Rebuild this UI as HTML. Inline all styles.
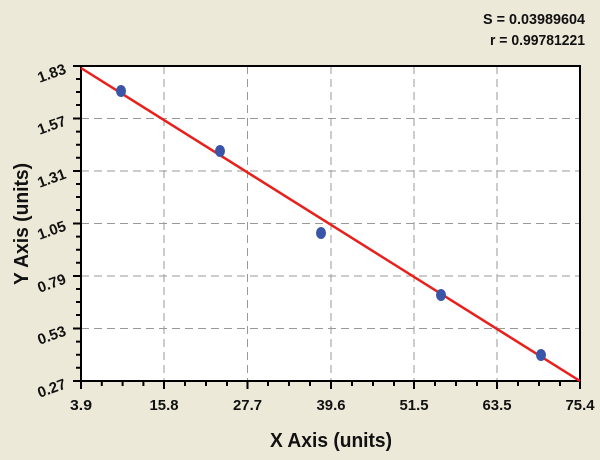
<!DOCTYPE html>
<html><head><meta charset="utf-8"><style>
html,body{margin:0;padding:0;background:#ece9d8;}
svg{display:block;}
text{font-family:"Liberation Sans",sans-serif;font-weight:bold;fill:#111;}
</style></head><body>
<svg width="600" height="460" viewBox="0 0 600 460" xmlns="http://www.w3.org/2000/svg">
<rect width="600" height="460" fill="#ece9d8"/>
<rect x="81" y="66" width="499" height="315" fill="#fff"/>
<g stroke="#999" stroke-width="1" stroke-dasharray="8,5">
<line x1="164" y1="66" x2="164" y2="381"/><line x1="247.5" y1="66" x2="247.5" y2="381"/>
<line x1="331" y1="66" x2="331" y2="381"/><line x1="414" y1="66" x2="414" y2="381"/>
<line x1="497" y1="66" x2="497" y2="381"/>
<line x1="81" y1="118.5" x2="580" y2="118.5"/><line x1="81" y1="171" x2="580" y2="171"/>
<line x1="81" y1="223.5" x2="580" y2="223.5"/><line x1="81" y1="276" x2="580" y2="276"/>
<line x1="81" y1="328.5" x2="580" y2="328.5"/>
</g>
<rect x="81" y="66" width="499" height="315" fill="none" stroke="#000" stroke-width="2"/>
<g stroke="#000" stroke-width="2">
<path d="M81,381v8M101.8,381v5M122.6,381v5M143.4,381v5M164,381v8M185,381v5M206,381v5M227,381v5M247.5,381v8M268,381v5M289,381v5M310,381v5M331,381v8M352,381v5M373,381v5M394,381v5M414,381v8M435,381v5M456,381v5M477,381v5M497,381v8M518,381v5M539,381v5M560,381v5M580,381v8"/>
<path d="M81,66h-8M81,79h-5M81,92h-5M81,105h-5M81,118.5h-8M81,131.6h-5M81,144.7h-5M81,157.8h-5M81,171h-8M81,184h-5M81,197h-5M81,210h-5M81,223.5h-8M81,236.6h-5M81,249.7h-5M81,262.8h-5M81,276h-8M81,289h-5M81,302h-5M81,315h-5M81,328.5h-8M81,341.6h-5M81,354.7h-5M81,367.8h-5M81,381h-8"/>
</g>
<line x1="81" y1="68" x2="580" y2="381" stroke="#e8201c" stroke-width="2.5"/>
<g fill="#3a55a8">
<ellipse cx="121" cy="91" rx="5" ry="6"/><ellipse cx="220" cy="151" rx="5" ry="6"/>
<ellipse cx="321" cy="233" rx="5" ry="6"/><ellipse cx="441" cy="295" rx="5" ry="6"/>
<ellipse cx="541" cy="355" rx="5" ry="6"/>
</g>
<g font-size="15" text-anchor="middle" lengthAdjust="spacingAndGlyphs">
<text x="81" y="410" textLength="22" lengthAdjust="spacingAndGlyphs">3.9</text>
<text x="164" y="410" textLength="29" lengthAdjust="spacingAndGlyphs">15.8</text>
<text x="247.5" y="410" textLength="29" lengthAdjust="spacingAndGlyphs">27.7</text>
<text x="331" y="410" textLength="29" lengthAdjust="spacingAndGlyphs">39.6</text>
<text x="414" y="410" textLength="29" lengthAdjust="spacingAndGlyphs">51.5</text>
<text x="497" y="410" textLength="29" lengthAdjust="spacingAndGlyphs">63.5</text>
<text x="580" y="410" textLength="29" lengthAdjust="spacingAndGlyphs">75.4</text>
</g>
<g font-size="15" text-anchor="end">
<text transform="translate(67,73) rotate(-20)" textLength="29" lengthAdjust="spacingAndGlyphs">1.83</text>
<text transform="translate(67,125) rotate(-20)" textLength="29" lengthAdjust="spacingAndGlyphs">1.57</text>
<text transform="translate(67,178) rotate(-20)" textLength="29" lengthAdjust="spacingAndGlyphs">1.31</text>
<text transform="translate(67,230) rotate(-20)" textLength="29" lengthAdjust="spacingAndGlyphs">1.05</text>
<text transform="translate(67,283) rotate(-20)" textLength="29" lengthAdjust="spacingAndGlyphs">0.79</text>
<text transform="translate(67,335) rotate(-20)" textLength="29" lengthAdjust="spacingAndGlyphs">0.53</text>
<text transform="translate(67,388) rotate(-20)" textLength="29" lengthAdjust="spacingAndGlyphs">0.27</text>
</g>
<text x="331" y="447" font-size="20" text-anchor="middle" textLength="122" lengthAdjust="spacingAndGlyphs">X Axis (units)</text>
<text transform="translate(28,224) rotate(-90)" font-size="20" text-anchor="middle" textLength="122" lengthAdjust="spacingAndGlyphs">Y Axis (units)</text>
<text x="585" y="24" font-size="15" text-anchor="end" textLength="102" lengthAdjust="spacingAndGlyphs">S = 0.03989604</text>
<text x="585" y="45" font-size="15" text-anchor="end" textLength="95" lengthAdjust="spacingAndGlyphs">r = 0.99781221</text>
</svg>
</body></html>
